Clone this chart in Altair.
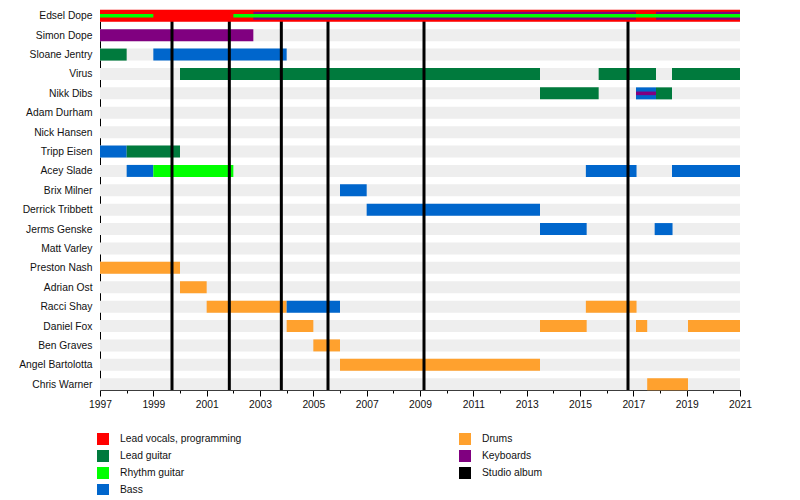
import altair as alt
import pandas as pd

# ---------------- data ----------------
members = [
    "Edsel Dope", "Simon Dope", "Sloane Jentry", "Virus", "Nikk Dibs",
    "Adam Durham", "Nick Hansen", "Tripp Eisen", "Acey Slade", "Brix Milner",
    "Derrick Tribbett", "Jerms Genske", "Matt Varley", "Preston Nash",
    "Adrian Ost", "Racci Shay", "Daniel Fox", "Ben Graves",
    "Angel Bartolotta", "Chris Warner",
]

# legend entries (filled column by column in a two-column legend)
legend_roles = [
    "Lead vocals, programming", "Lead guitar", "Rhythm guitar", "Bass",
    "Drums", "Keyboards", "Studio album",
]
legend_colors = [
    "#FF0000", "#007A3D", "#00FF00", "#0066CC",
    "#FFA12E", "#800080", "#000000",
]

timeline_start = 1997
timeline_end = 2021

# main membership bars
bar_member = [
    "Edsel Dope",
    "Simon Dope",
    "Sloane Jentry", "Sloane Jentry",
    "Virus", "Virus", "Virus",
    "Nikk Dibs", "Nikk Dibs", "Nikk Dibs",
    "Tripp Eisen", "Tripp Eisen",
    "Acey Slade", "Acey Slade", "Acey Slade", "Acey Slade",
    "Brix Milner",
    "Derrick Tribbett",
    "Jerms Genske", "Jerms Genske",
    "Preston Nash",
    "Adrian Ost",
    "Racci Shay", "Racci Shay", "Racci Shay",
    "Daniel Fox", "Daniel Fox", "Daniel Fox", "Daniel Fox",
    "Ben Graves",
    "Angel Bartolotta",
    "Chris Warner",
]
bar_role = [
    "Lead vocals, programming",
    "Keyboards",
    "Lead guitar", "Bass",
    "Lead guitar", "Lead guitar", "Lead guitar",
    "Lead guitar", "Bass", "Lead guitar",
    "Bass", "Lead guitar",
    "Bass", "Rhythm guitar", "Bass", "Bass",
    "Bass",
    "Bass",
    "Bass", "Bass",
    "Drums",
    "Drums",
    "Drums", "Bass", "Drums",
    "Drums", "Drums", "Drums", "Drums",
    "Drums",
    "Drums",
    "Drums",
]
bar_start = [
    1997.0,
    1997.0,
    1997.0, 1999.0,
    2000.0, 2015.7, 2018.45,
    2013.5, 2017.1, 2017.85,
    1997.0, 1998.0,
    1998.0, 1999.0, 2015.22, 2018.45,
    2006.0,
    2007.0,
    2013.5, 2017.8,
    1997.0,
    2000.0,
    2001.0, 2004.0, 2015.22,
    2004.0, 2013.5, 2017.1, 2019.05,
    2005.0,
    2006.0,
    2017.52,
]
bar_end = [
    2021.0,
    2002.75,
    1998.0, 2004.0,
    2013.5, 2017.85, 2021.0,
    2015.7, 2017.85, 2018.45,
    1998.0, 2000.0,
    1999.0, 2002.0, 2017.12, 2021.0,
    2007.0,
    2013.5,
    2015.25, 2018.47,
    2000.0,
    2001.0,
    2004.0, 2006.0, 2017.12,
    2005.0, 2015.25, 2017.52, 2021.0,
    2006.0,
    2013.5,
    2019.05,
]

# secondary roles drawn as stripes inside a bar
wide_stripe_member = ["Edsel Dope", "Edsel Dope"]
wide_stripe_role = ["Keyboards", "Keyboards"]
wide_stripe_start = [2002.75, 2017.85]
wide_stripe_end = [2017.1, 2021.0]

thin_stripe_member = ["Edsel Dope", "Edsel Dope", "Nikk Dibs"]
thin_stripe_role = ["Rhythm guitar", "Rhythm guitar", "Keyboards"]
thin_stripe_start = [1997.0, 2002.0, 2017.1]
thin_stripe_end = [1999.0, 2021.0, 2017.85]

# studio albums (release dates as fractional years)
album_titles = [
    "Felons and Revolutionaries", "Life", "Group Therapy",
    "American Apathy", "No Regrets", "Blood Money Part 1",
]
album_release = [1999.7, 2001.85, 2003.8, 2005.55, 2009.15, 2016.8]

# ---------------- tables ----------------
bg_df = pd.DataFrame({
    "member": members,
    "start": [timeline_start] * len(members),
    "end": [timeline_end] * len(members),
})
bars_df = pd.DataFrame({"member": bar_member, "role": bar_role,
                        "start": bar_start, "end": bar_end})
wide_df = pd.DataFrame({"member": wide_stripe_member, "role": wide_stripe_role,
                        "start": wide_stripe_start, "end": wide_stripe_end})
thin_df = pd.DataFrame({"member": thin_stripe_member, "role": thin_stripe_role,
                        "start": thin_stripe_start, "end": thin_stripe_end})
album_df = pd.DataFrame({"album": album_titles, "release": album_release})

FONT = "Liberation Sans"

x_scale = alt.Scale(domain=[timeline_start, timeline_end], nice=False, zero=False)
y_scale = alt.Scale(type="point", domain=members, padding=0.3, align=0.5)

x_axis = alt.Axis(
    values=list(range(timeline_start, timeline_end + 1)),
    format="d",
    labelExpr="datum.value % 2 == 1 ? datum.label : ''",
    tickSize={"condition": {"test": "datum.value % 2 == 1", "value": 6}, "value": 3},
    grid=False, domainColor="black", tickColor="black", labelColor="#111111",
    labelFont=FONT, labelFontSize=10.3, labelPadding=3, title=None,
    labelFlush=False, labelOverlap=False,
)
y_axis = alt.Axis(
    ticks=False, grid=False, domainColor="black", labelColor="#111111",
    labelFont=FONT, labelFontSize=10.3, labelPadding=8, title=None,
)

color = alt.Color(
    "role:N",
    scale=alt.Scale(domain=legend_roles, range=legend_colors),
    legend=alt.Legend(
        title=None, orient="none", legendX=-3, legendY=423, columns=2,
        columnPadding=217, rowPadding=5, symbolType="square", symbolSize=144,
        symbolStrokeWidth=0, labelFont=FONT, labelFontSize=10.3,
        labelColor="#111111", labelOffset=11,
    ),
)

def enc(chart):
    return chart.encode(
        x=alt.X("start:Q", scale=x_scale, axis=x_axis),
        x2="end:Q",
        y=alt.Y("member:N", scale=y_scale, axis=y_axis),
    )

bg = enc(alt.Chart(bg_df).mark_bar(size=12, color="#EEEEEE"))
others = enc(alt.Chart(bars_df).mark_bar(size=12)).encode(color=color).transform_filter(
    alt.datum.member != "Edsel Dope")
albums = alt.Chart(album_df).mark_rule(strokeWidth=3, color="black").encode(
    x=alt.X("release:Q", scale=x_scale, axis=x_axis))
edsel = enc(alt.Chart(bars_df).mark_bar(size=12)).encode(color=color).transform_filter(
    alt.datum.member == "Edsel Dope")
wide = enc(alt.Chart(wide_df).mark_bar(size=8)).encode(color=color)
thin = enc(alt.Chart(thin_df).mark_bar(size=3.6)).encode(color=color)

chart = alt.layer(bg, others, albums, edsel, wide, thin).properties(
    width=640, height=380,
    padding={"left": 92, "top": 2, "right": 40, "bottom": 105},
    autosize=alt.AutoSizeParams(type="none"),
).configure_view(stroke=None)

chart.save("out.html", embed_options={"renderer": "svg", "actions": False})
